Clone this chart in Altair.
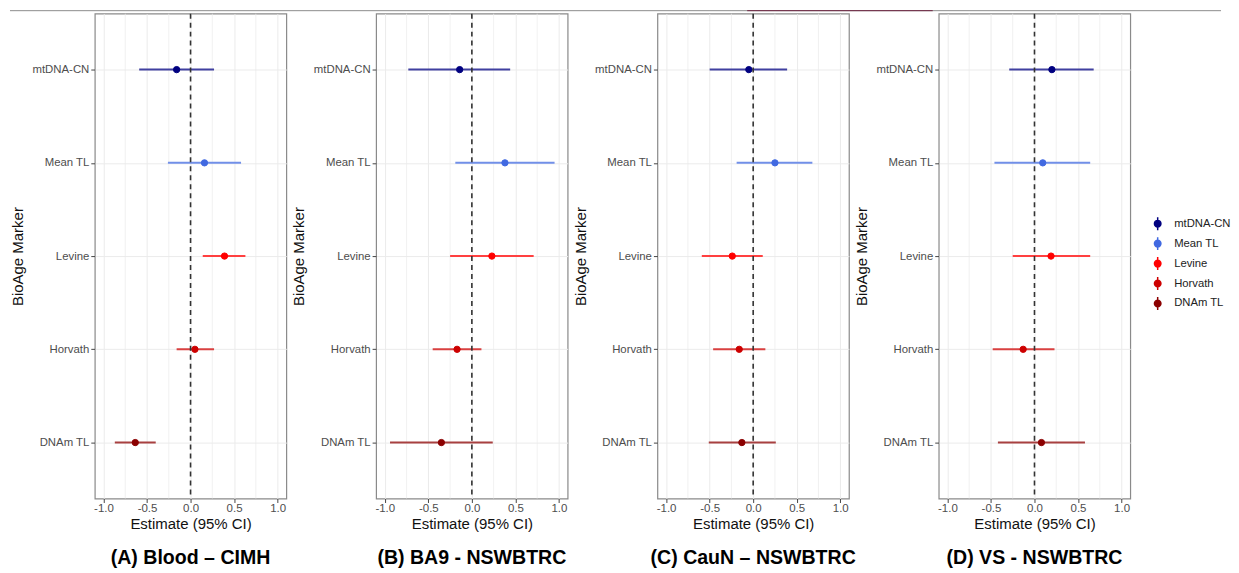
import altair as alt
import pandas as pd

markers = ["mtDNA-CN", "Mean TL", "Levine", "Horvath", "DNAm TL"]
colors = ["#000080", "#4169E1", "#FF0000", "#CD0000", "#8B0000"]
ci_colors = ["#4040A0", "#718FE8", "#FF4040", "#D94040", "#A84040"]

panel_titles = ["(A) Blood \u2013 CIMH", "(B) BA9 - NSWBTRC", "(C) CauN \u2013 NSWBTRC", "(D) VS - NSWBTRC"]

est_A = [-0.16, 0.16, 0.39, 0.05, -0.635]
lo_A = [-0.59, -0.26, 0.14, -0.16, -0.87]
hi_A = [0.27, 0.58, 0.63, 0.27, -0.40]

est_B = [-0.14, 0.38, 0.23, -0.17, -0.35]
lo_B = [-0.73, -0.19, -0.25, -0.45, -0.94]
hi_B = [0.44, 0.95, 0.71, 0.11, 0.24]

est_C = [-0.05, 0.25, -0.24, -0.16, -0.13]
lo_C = [-0.50, -0.19, -0.59, -0.46, -0.51]
hi_C = [0.39, 0.68, 0.11, 0.14, 0.26]

est_D = [0.20, 0.095, 0.19, -0.13, 0.08]
lo_D = [-0.29, -0.46, -0.25, -0.48, -0.42]
hi_D = [0.68, 0.64, 0.64, 0.23, 0.58]

x_ticks = [-1.0, -0.5, 0.0, 0.5, 1.0]
minor_grid = [-0.75, -0.25, 0.25, 0.75]
ref_line = [0.0]

FONT = "Liberation Sans"
color_scale = alt.Scale(domain=markers, range=colors)

legend_symbol = ("M-0.5,0A0.5,0.5,0,1,1,0.5,0A0.5,0.5,0,1,1,-0.5,0Z"
                 "M0,-1L0,1")
legend = alt.Legend(
    title=None, orient="none", legendX=1058, legendY=203,
    symbolType=legend_symbol, symbolSize=169, symbolStrokeWidth=1.5,
    labelFont=FONT, labelFontSize=11.3, labelColor="#222222",
    rowPadding=1, labelOffset=9,
)

xaxis = alt.Axis(
    values=x_ticks,
    labelExpr="datum.value < 0 ? '-' + format(-datum.value, '.1f') : format(datum.value, '.1f')",
    grid=True, gridColor="#EBEBEB", gridWidth=1, domain=False,
    tickSize=4, tickColor="#444444", tickWidth=1,
    labelFont=FONT, labelFontSize=11.5, labelColor="#4D4D4D", labelPadding=0.5,
    title="Estimate (95% CI)", titleFont=FONT, titleFontSize=15,
    titleFontWeight="normal", titleColor="#111111", titlePadding=2.5,
)
yaxis = alt.Axis(
    grid=True, gridColor="#EBEBEB", gridWidth=1, domain=False,
    tickSize=4, tickColor="#444444", tickWidth=1,
    labelFont=FONT, labelFontSize=11.4, labelColor="#4D4D4D", labelPadding=2,
    title="BioAge Marker", titleFont=FONT, titleFontSize=15,
    titleFontWeight="normal", titleColor="#111111", titlePadding=6.5,
)


def panel(title, est, lo, hi, with_top_line=False):
    df = pd.DataFrame({"Marker": markers, "Estimate": est, "Lower": lo, "Upper": hi,
                       "ci_color": ci_colors})
    xs = alt.Scale(domain=[-1.1, 1.1], nice=False, zero=False)
    ys = alt.Scale(type="point", domain=markers, padding=0.6)
    minor = alt.Chart(pd.DataFrame({"g": minor_grid})).mark_rule(
        color="#EBEBEB", strokeWidth=0.7
    ).encode(x=alt.X("g:Q", scale=xs, axis=xaxis))
    ci = alt.Chart(df).mark_rule(strokeWidth=2).encode(
        x=alt.X("Lower:Q", scale=xs, axis=xaxis),
        x2="Upper:Q",
        y=alt.Y("Marker:N", scale=ys, axis=yaxis),
        color=alt.Color("ci_color:N", scale=None),
    )
    pts = alt.Chart(df).mark_point(filled=True, size=40, strokeWidth=1, opacity=1).encode(
        x=alt.X("Estimate:Q", scale=xs, axis=xaxis),
        y=alt.Y("Marker:N", scale=ys, axis=yaxis),
        fill=alt.Fill("Marker:N", scale=color_scale, legend=legend),
        stroke=alt.Stroke("Marker:N", scale=color_scale, legend=legend),
    )
    zero = alt.Chart(pd.DataFrame({"z": ref_line})).mark_rule(
        color="#333333", strokeWidth=1.6, strokeDash=[5, 4]
    ).encode(x=alt.X("z:Q", scale=xs, axis=xaxis))
    layers = [minor, ci, pts, zero]
    if with_top_line:
        dummy = pd.DataFrame({"a": [0]})
        grey_line = alt.Chart(dummy).mark_rule(color="#8C8C8C", strokeWidth=1).encode(
            x=alt.value(-85), x2=alt.value(1129), y=alt.value(-3)
        )
        maroon_line = alt.Chart(dummy).mark_rule(color="#6D2440", strokeWidth=1).encode(
            x=alt.value(654), x2=alt.value(840), y=alt.value(-3)
        )
        layers += [grey_line, maroon_line]
    return alt.layer(*layers).properties(
        width=192, height=486,
        title=alt.TitleParams(
            text=title, orient="bottom", anchor="middle", frame="group",
            font="Liberation Sans", fontSize=19.6, fontWeight="bold",
            color="#000000", offset=17,
        ),
        view=alt.ViewBackground(stroke="#8A8A8A", strokeWidth=1.2),
    )


panels = [
    panel(panel_titles[0], est_A, lo_A, hi_A, with_top_line=True),
    panel(panel_titles[1], est_B, lo_B, hi_B),
    panel(panel_titles[2], est_C, lo_C, hi_C),
    panel(panel_titles[3], est_D, lo_D, hi_D),
]
chart = alt.hconcat(*panels, spacing=90, bounds="flush").properties(
    padding={"left": 0, "top": 0, "right": 0, "bottom": 0}
).configure_view(stroke="transparent")

chart.save("out.html", embed_options={"renderer": "svg", "actions": False})
